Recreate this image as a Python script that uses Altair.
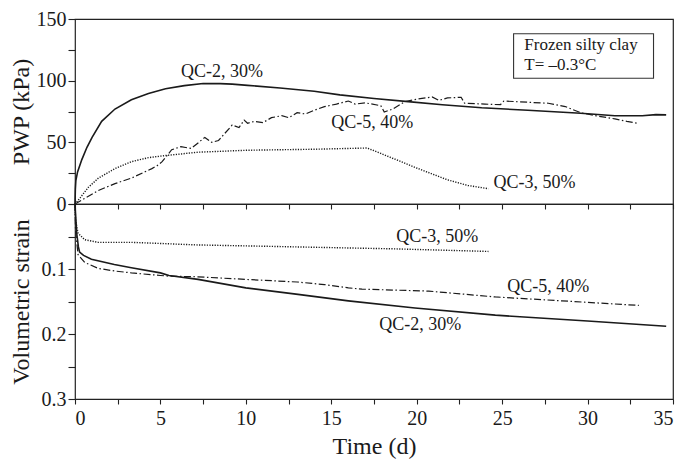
import altair as alt
import pandas as pd

# ---------------- data ----------------
qc2_pwp_t = [0, 0.02, 0.05, 0.15, 0.4, 0.7, 1.0, 1.56, 2.34, 3.3, 4.3, 5.3, 6.4, 7.5, 8.5, 9.2, 10.1,
             12.0, 14.0, 15.5, 17.5, 19.5, 21.5, 23.8, 26.5, 29.6, 31.6, 33.2, 34.0, 34.6]
qc2_pwp_v = [0, 12, 19, 26, 36, 46, 54, 67, 77, 84.5, 89.6, 93.4, 96, 97.7, 97.6, 97.2, 96.2,
             94, 91.4, 88.5, 85.5, 83, 80.5, 78, 76, 73.6, 71.6, 71.6, 72.5, 72.3]

qc3_pwp_t = [0, 0.3, 0.78, 1.37, 2.34, 3.3, 4.3, 5.3, 7.2, 10.1, 14.0, 16.5, 17.1, 17.9, 19.9, 21.8, 23.0, 24.2]
qc3_pwp_v = [0, 5, 13.5, 21, 28.7, 34.3, 37.6, 39.3, 42, 43.6, 44.4, 45.2, 45.4, 41, 29.7, 19.6, 15, 12.4]

qc5_pwp_t = [0, 0.5, 1.37, 2.34, 3.3, 4.5, 4.8, 5.1, 5.66, 6.2, 6.8, 7.6, 8.0, 8.4, 9.2, 9.6, 9.9, 10.1,
             10.5, 11.0, 11.5, 12.1, 12.5, 13.0, 13.5, 14.0, 14.6, 15.3, 16.0, 16.4, 17.0, 17.9, 18.1,
             18.6, 19.3, 20.0, 20.9, 21.3, 21.8, 22.6, 22.8, 24.0, 24.9, 25.1, 26.5, 27.7, 28.7, 29.6,
             30.5, 31.6, 32.3, 33.0]
qc5_pwp_v = [0, 4, 11, 16.5, 21, 28.7, 31, 34.3, 44, 46.5, 45, 54, 50, 51.5, 64, 62, 68, 65.5,
             67, 66, 70, 71.6, 70, 74, 73, 76, 79, 81, 83.5, 81, 82, 79.7, 74.6,
             77, 83, 85, 86.8, 84, 86, 86.5, 81.7, 81, 80.5, 83.5, 82.5, 81.7, 79, 74,
             71.5, 69, 67, 65.3]

qc2_vs_t = [0, 0.03, 0.1, 0.2, 0.27, 0.5, 0.96, 2.3, 3.3, 5.0, 5.5, 7.2, 10.0, 13.05, 16.0, 19.9, 24.6, 30.0, 34.6]
qc2_vs_v = [0, 0.014, 0.045, 0.066, 0.074, 0.079, 0.085, 0.093, 0.098, 0.106, 0.110, 0.116, 0.129, 0.139, 0.149,
            0.160, 0.171, 0.180, 0.188]

qc3_vs_t = [0, 0.03, 0.18, 0.57, 1.35, 3.3, 7.2, 11.1, 14.8, 18.7, 24.2]
qc3_vs_v = [0, 0.0245, 0.045, 0.055, 0.059, 0.059, 0.063, 0.065, 0.067, 0.069, 0.073]

qc5_vs_t = [0, 0.03, 0.18, 0.57, 1.35, 2.3, 3.3, 5.0, 5.5, 7.2, 10.0, 13.0, 14.6, 16.0, 16.8, 20.7, 24.6, 28.5, 33.0]
qc5_vs_v = [0, 0.04, 0.078, 0.09, 0.099, 0.103, 0.106, 0.110, 0.111, 0.112, 0.116, 0.120, 0.124, 0.129, 0.131,
            0.134, 0.143, 0.149, 0.156]

top_labels = ["QC-2, 30%", "QC-5, 40%", "QC-3, 50%"]
top_label_t = [8.6, 17.4, 26.9]
top_label_v = [107, 65.5, 16.7]

bot_labels = ["QC-3, 50%", "QC-5, 40%", "QC-2, 30%"]
bot_label_t = [21.2, 27.7, 20.2]
bot_label_v = [0.0505, 0.128, 0.186]

box_lines = ["Frozen silty clay", "T= \u20130.3\u00b0C"]
box_line_t = [26.3, 26.3]
box_line_v = [129, 113]
box_t = [25.67, 33.86]
box_v = [102, 138]

x_ticks = [i * 2.5 for i in range(15)]
pwp_ticks = [0, 25, 50, 75, 100, 125, 150]
vs_ticks = [0, 0.05, 0.1, 0.15, 0.2, 0.25, 0.3]

# ---------------- chart ----------------
FONT = "Liberation Serif"
INK = "#1a1a1a"
W = 598

def df(ts, vs):
    return pd.DataFrame({"t": ts, "v": vs})

xscale = alt.Scale(domain=[0, 35], nice=False, zero=False)
x_top = alt.X("t:Q", scale=xscale,
              axis=alt.Axis(values=x_ticks, labels=False, title=None, tickSize=5,
                            domain=False, grid=False))
x_bot = alt.X("t:Q", scale=xscale,
              axis=alt.Axis(values=x_ticks, labelExpr="datum.value % 5 == 0 ? datum.label : ''",
                            title="Time (d)", tickSize=5, domain=False, grid=False,
                            labelPadding=4, titlePadding=6))
y_top = alt.Y("v:Q", scale=alt.Scale(domain=[0, 150], nice=False),
              axis=alt.Axis(values=pwp_ticks, labelExpr="datum.value % 50 == 0 ? datum.label : ''",
                            title="PWP (kPa)", tickSize=7, domain=False, grid=False,
                            labelPadding=2, titleX=-54, titleBaseline="middle"))
y_bot = alt.Y("v:Q", scale=alt.Scale(domain=[0, 0.3], nice=False, reverse=True),
              axis=alt.Axis(values=vs_ticks,
                            labelExpr="(datum.value > 0.001 && abs(datum.value*10 - round(datum.value*10)) < 0.001) ? format(datum.value, '.1f') : ''",
                            title="Volumetric strain", tickSize=7, domain=False, grid=False,
                            labelPadding=2, titleX=-54, titleBaseline="middle"))

solid = dict(color=INK, strokeWidth=1.6)
dotted = dict(color=INK, strokeWidth=1.4, strokeDash=[1.2, 1.4])
dashdot = dict(color=INK, strokeWidth=1.2, strokeDash=[7, 2.5, 1.5, 2.5])

def lines(x, y, specs):
    return [alt.Chart(df(ts, vs)).mark_line(**st).encode(x=x, y=y) for ts, vs, st in specs]

top_layers = lines(x_top, y_top, [
    (qc2_pwp_t, qc2_pwp_v, solid),
    (qc3_pwp_t, qc3_pwp_v, dotted),
    (qc5_pwp_t, qc5_pwp_v, dashdot),
])
top_text = alt.Chart(pd.DataFrame({"t": top_label_t, "v": top_label_v, "lab": top_labels})).mark_text(
    font=FONT, fontSize=18, color=INK).encode(x=x_top, y=y_top, text="lab:N")
box = alt.Chart(pd.DataFrame({"t": [box_t[0]], "t2": [box_t[1]], "v": [box_v[0]], "v2": [box_v[1]]})).mark_rect(
    fill=None, stroke="#333", strokeWidth=1.1).encode(x=x_top, x2="t2", y=y_top, y2="v2")
box_text = alt.Chart(pd.DataFrame({"t": box_line_t, "v": box_line_v, "lab": box_lines})).mark_text(
    font=FONT, fontSize=17, color=INK, align="left").encode(x=x_top, y=y_top, text="lab:N")

top = alt.layer(*top_layers, top_text, box, box_text).properties(width=W, height=185)

bot_layers = lines(x_bot, y_bot, [
    (qc2_vs_t, qc2_vs_v, solid),
    (qc3_vs_t, qc3_vs_v, dotted),
    (qc5_vs_t, qc5_vs_v, dashdot),
])
bot_text = alt.Chart(pd.DataFrame({"t": bot_label_t, "v": bot_label_v, "lab": bot_labels})).mark_text(
    font=FONT, fontSize=18, color=INK).encode(x=x_bot, y=y_bot, text="lab:N")
bottom = alt.layer(*bot_layers, bot_text).properties(width=W, height=195)

chart = alt.vconcat(top, bottom, spacing=0, bounds="flush",
                    padding={"left": 0, "top": 0, "right": 0, "bottom": 0}).configure_view(
    stroke="#222", strokeWidth=1.2
).configure_axis(
    labelFont=FONT, titleFont=FONT, labelFontSize=20, titleFontSize=24,
    labelColor=INK, titleColor=INK, tickColor="#222", tickWidth=1.1,
    titleFontWeight="normal"
)

chart.save("out.html", embed_options={"renderer": "svg", "actions": False})
